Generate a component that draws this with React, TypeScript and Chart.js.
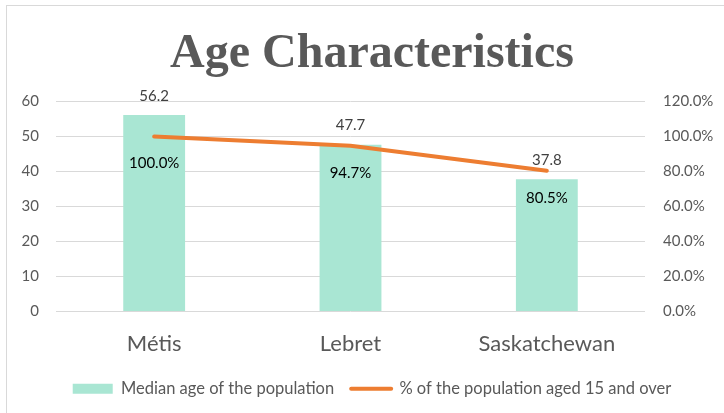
import React, { useEffect, useRef } from "react";
import { Chart, registerables } from "chart.js";

Chart.register(...registerables);

const categories = ["Métis", "Lebret", "Saskatchewan"];
const medianAge = [56.2, 47.7, 37.8];
const pctAged15Plus = [100.0, 94.7, 80.5];
const leftTicks = [0, 10, 20, 30, 40, 50, 60];
const rightTicks = [0, 20, 40, 60, 80, 100, 120];

const TITLE = "Age Characteristics";
const BAR_LABEL = "Median age of the population";
const LINE_LABEL = "% of the population aged 15 and over";

const BAR_COLOR = "#A9E6D3";
const LINE_COLOR = "#ED7D31";
const TEXT_COLOR = "#595959";
const GRID_COLOR = "#D9D9D9";
const FONT = "Lato";

const dataLabels = {
  id: "dataLabels",
  afterDatasetsDraw(chart: any) {
    const ctx = chart.ctx;
    ctx.save();
    ctx.textAlign = "center";
    ctx.textBaseline = "middle";
    ctx.font = `15px ${FONT}`;
    const barMeta = chart.getDatasetMeta(0);
    barMeta.data.forEach((el: any, i: number) => {
      ctx.fillStyle = "#404040";
      ctx.fillText(medianAge[i].toFixed(1), el.x, el.y - 19);
    });
    const lineMeta = chart.getDatasetMeta(1);
    lineMeta.data.forEach((el: any, i: number) => {
      ctx.fillStyle = "#000000";
      ctx.fillText(pctAged15Plus[i].toFixed(1) + "%", el.x, el.y + 27);
    });
    ctx.restore();
  },
};

export default function App() {
  const ref = useRef<HTMLCanvasElement | null>(null);
  useEffect(() => {
    if (!ref.current) return;
    const chart = new Chart(ref.current, {
      type: "bar",
      data: {
        labels: categories,
        datasets: [
          {
            type: "bar",
            label: BAR_LABEL,
            data: medianAge,
            backgroundColor: BAR_COLOR,
            borderWidth: 0,
            yAxisID: "y",
            order: 2,
            categoryPercentage: 1,
            barPercentage: 0.315,
          } as any,
          {
            type: "line",
            label: LINE_LABEL,
            data: pctAged15Plus,
            borderColor: LINE_COLOR,
            backgroundColor: LINE_COLOR,
            borderWidth: 4,
            pointRadius: 0,
            borderCapStyle: "round",
            yAxisID: "y1",
            order: 1,
          } as any,
        ],
      },
      options: {
        animation: false,
        responsive: false,
        maintainAspectRatio: false,
        layout: { padding: { left: 0, right: 0, top: 0, bottom: 17 } },
        plugins: {
          title: {
            display: true,
            text: TITLE,
            color: TEXT_COLOR,
            font: { family: "Liberation Serif", size: 48, weight: "bold", lineHeight: 1.2 },
            padding: { top: 20, bottom: 18 },
          },
          legend: {
            position: "bottom",
            labels: {
              usePointStyle: true,
              pointStyleWidth: 40,
              boxHeight: 10,
              padding: 17,
              color: TEXT_COLOR,
              font: { family: FONT, size: 16.5 },
              sort: (a: any, b: any) => a.datasetIndex - b.datasetIndex,
              generateLabels: (c: any) => {
                const items = Chart.defaults.plugins.legend.labels.generateLabels(c);
                return items.map((it: any) => {
                  if (it.datasetIndex === 0) {
                    return { ...it, pointStyle: "rect", fillStyle: BAR_COLOR, strokeStyle: BAR_COLOR, lineWidth: 0 };
                  }
                  return { ...it, pointStyle: "line", strokeStyle: LINE_COLOR, lineWidth: 4, lineCap: "round" };
                });
              },
            },
          },
          tooltip: { enabled: false },
        },
        scales: {
          x: {
            grid: { display: false },
            border: { display: false },
            ticks: { color: TEXT_COLOR, font: { family: FONT, size: 22 }, padding: 11 },
            afterFit: (s: any) => {
              s.height = 52;
            },
          },
          y: {
            position: "left",
            min: 0,
            max: 60,
            afterBuildTicks: (s: any) => {
              s.ticks = leftTicks.map((v) => ({ value: v }));
            },
            grid: { color: GRID_COLOR, lineWidth: 1, drawTicks: false },
            border: { display: false },
            ticks: { color: TEXT_COLOR, font: { family: FONT, size: 15 }, padding: 17 },
            afterFit: (s: any) => {
              s.width = 49;
            },
          },
          y1: {
            position: "right",
            min: 0,
            max: 120,
            afterBuildTicks: (s: any) => {
              s.ticks = rightTicks.map((v) => ({ value: v }));
            },
            grid: { display: false, drawTicks: false },
            border: { display: false },
            ticks: {
              color: TEXT_COLOR,
              font: { family: FONT, size: 15 },
              padding: 18,
              callback: (v: any) => Number(v).toFixed(1) + "%",
            },
            afterFit: (s: any) => {
              s.width = 92;
            },
          },
        },
      },
      plugins: [dataLabels],
    } as any);
    return () => chart.destroy();
  }, []);

  return (
    <div style={{ position: "fixed", left: 0, top: 0, width: 724, height: 413, overflow: "hidden", background: "#fff" }}>
      <div
        style={{
          position: "absolute",
          left: 6,
          top: 5,
          width: 732,
          height: 420,
          border: `1px solid ${GRID_COLOR}`,
          boxSizing: "border-box",
        }}
      >
        <canvas ref={ref} width={730} height={418} style={{ display: "block", width: 730, height: 418 }} />
      </div>
    </div>
  );
}
